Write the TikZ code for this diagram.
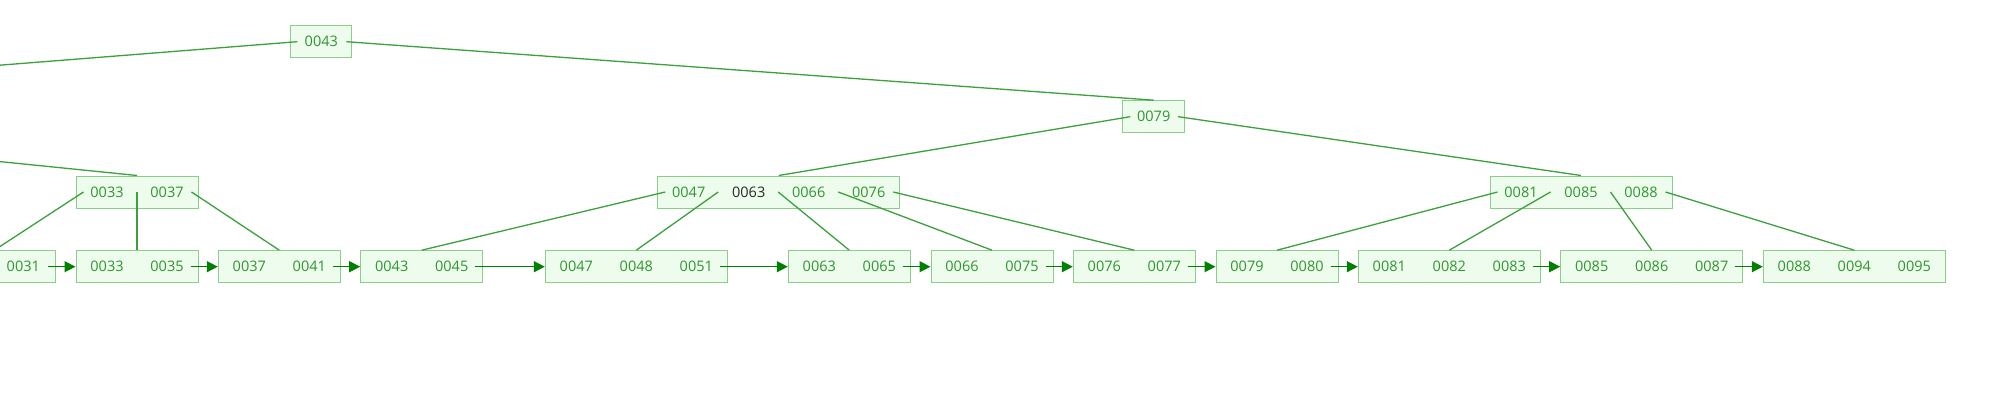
\documentclass[tikz,border=0pt]{standalone}
\usepackage{fontspec}
\setmainfont{Open Sans}
\usetikzlibrary{arrows.meta}
\definecolor{boxfill}{RGB}{238,252,238}
\definecolor{boxline}{RGB}{140,205,140}
\definecolor{keytext}{RGB}{45,150,45}
\definecolor{edgecol}{RGB}{60,160,60}
\definecolor{nextcol}{RGB}{0,128,0}
\definecolor{darkkey}{RGB}{40,40,40}
\begin{document}
\begin{tikzpicture}[x=1pt, y=-1pt,
    box/.style={draw=boxline, fill=boxfill, line width=1pt, minimum height=32pt, inner sep=0pt},
    key/.style={text=keytext, font=\fontsize{14.5}{16}\selectfont, inner sep=0pt},
    edge/.style={draw=edgecol, line width=1.3pt},
    nextleaf/.style={draw=nextcol, line width=1.4pt, -{Triangle[length=11pt, width=11pt]}}]
    \useasboundingbox (0,0) rectangle (2008,409);
    \clip (0,0) rectangle (2008,409);
    % leaves
    \node[box, minimum width=122] (l0) at (-5.7,266.7) {};
    \node[key] (l0-2) at (23.3,266.7) {0031};
    \foreach \n/\xl/\w/\ks in {l1/76/122/{0033,0035}, l2/218.3/122/{0037,0041},
        l3/360.7/122/{0043,0045}, l4/545.3/182/{0047,0048,0051},
        l5/788.3/122/{0063,0065}, l6/931/122/{0066,0075}, l7/1073.3/122/{0076,0077},
        l8/1216/122/{0079,0080}, l9/1358.3/182/{0081,0082,0083},
        l10/1560.7/182/{0085,0086,0087}, l11/1763.3/182/{0088,0094,0095}} {
      \node[box, minimum width=\w] (\n) at ({\xl+\w/2},266.7) {};
      \foreach \k [count=\i] in \ks
        \node[key] (\n-\i) at ({\xl+60*\i-29},266.7) {\k};
    }
    % inner nodes
    \foreach \n/\xl/\w/\ks in {nA/76/122/{0033,0037},
        nB/657.7/242/{0047,\textcolor{darkkey}{0063},0066,0076},
        nC/1490/182/{0081,0085,0088}} {
      \node[box, minimum width=\w] (\n) at ({\xl+\w/2},192) {};
      \foreach \k [count=\i] in \ks
        \node[key] (\n-\i) at ({\xl+60*\i-29},192) {\k};
    }
    \node[box, minimum width=62] (n79) at (1153.7,116.7) {};
    \node[key] (n79-1) at (n79) {0079};
    \node[box, minimum width=61] (root) at (321.3,41.7) {};
    \node[key] (root-1) at (root) {0043};
    % parts of the tree left of the picture
    \coordinate (ltop) at (-450,100.7);
    \coordinate (lp) at (-437,117.3);
    % pointers
    \draw[edge] ([xshift=7pt]root.west) -- (ltop);
    \draw[edge] ([xshift=-6pt]root.east) -- (n79.north);
    \draw[edge] (lp) -- (nA.north);
    \draw[edge] ([xshift=8pt]n79.west) -- (nB.north);
    \draw[edge] ([xshift=-7pt]n79.east) -- (nC.north);
    \draw[edge] ([xshift=8pt]nA.west) -- (l0.north);
    \draw[edge] (nA.center) -- (l1.north);
    \draw[edge] ([xshift=-7pt]nA.east) -- (l2.north);
    \foreach \s/\c in {8/l3, 61/l4, 121/l5, 181/l6}
      \draw[edge] ([xshift=\s pt]nB.west) -- (\c.north);
    \draw[edge] ([xshift=-7pt]nB.east) -- (l7.north);
    \foreach \s/\c in {8/l8, 61/l9, 121/l10}
      \draw[edge] ([xshift=\s pt]nC.west) -- (\c.north);
    \draw[edge] ([xshift=-7pt]nC.east) -- (l11.north);
    % leaf chain
    \foreach \a/\b in {l0/l1, l1/l2, l2/l3, l3/l4, l4/l5, l5/l6, l6/l7,
        l7/l8, l8/l9, l9/l10, l10/l11}
      \draw[nextleaf] ([xshift=-8pt]\a.east) -- (\b.west);
\end{tikzpicture}
\end{document}
